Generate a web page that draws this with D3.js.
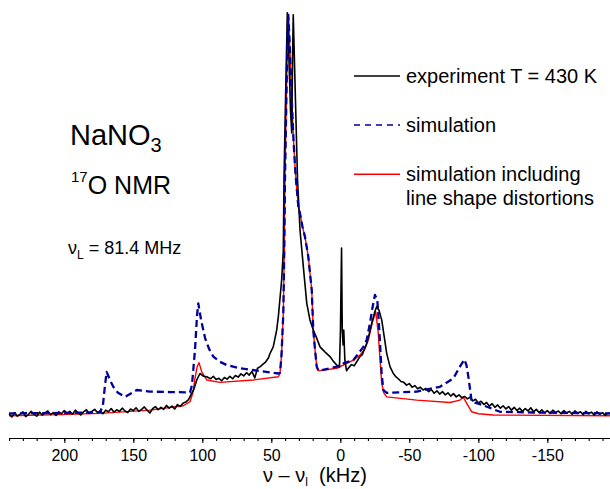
<!DOCTYPE html>
<html><head><meta charset="utf-8">
<script src="https://cdn.jsdelivr.net/npm/d3@7"></script>
<style>
body{margin:0;background:#fff}
svg{display:block}
text{font-family:"Liberation Sans",Arial,sans-serif;fill:#000}
</style>
</head><body>
<svg id="chart" width="610" height="489"></svg>
<script>
// ---- data (frequency offset in kHz, intensity in arbitrary units) ----
const experiment = [
[240,0.3],[238,-0.5],[236,0.6],[234,-0.3],[232,0.2],[230,0.8],[228,-0.4],[226,0.1],[224,0.9],[222,0.2],
[220,-0.3],[218,0.7],[216,0.0],[214,0.5],[212,1.0],[210,0.1],[208,0.6],[206,-0.1],[204,0.8],[202,0.3],
[200,1.1],[198,0.4],[196,0.9],[194,0.2],[192,1.2],[190,0.5],[188,0.0],[186,0.8],[184,1.3],[182,0.4],
[180,0.9],[178,1.4],[176,0.6],[174,1.0],[172,0.3],[170,1.2],[168,0.8],[166,1.6],[164,0.7],[162,1.3],
[160,0.9],[158,1.7],[156,1.0],[154,0.6],[152,1.5],[150,1.1],[148,1.8],[146,0.9],[144,1.4],[142,2.0],
[140,1.2],[138,0.5],[136,1.6],[134,2.1],[132,1.3],[130,1.9],[128,1.4],[126,2.4],[124,1.7],[122,2.2],
[120,1.5],[118,2.6],[116,2.1],[114,2.9],[112,3.2],[110,3.8],[108.5,4.8],[106,6.5],[104,8.7],[101.7,10.3],
[99,9.6],[96.8,9.5],[94,9.0],[92,9.6],[90,8.8],[88,9.1],[86,8.5],[84,9.3],[82,8.9],[80,9.6],
[78,9.0],[76,9.8],[74,9.4],[72,10.2],[70,9.7],[68,10.5],[66,9.9],[64,10.8],[62,9.2],[60,11.6],
[58,12.0],[56,12.6],[54,13.2],[52,14.2],[50.9,15.3],[48.6,16.9],[46.1,21.1],[44.9,24.4],[42.5,33.5],[41.3,40.9],
[40.8,58.3],[39.7,78.2],[38.4,99.8],[37.2,88.1],[36.1,75.7],[35.2,70.0],[34.6,88.1],[34.1,99.3],[32.5,78.2],[31.0,58.3],
[29.2,45.9],[26.8,36.8],[24.3,27.7],[22.0,23.6],[19.6,21.1],[17,19.0],[14.7,16.9],[11,15.6],[7.5,14.5],[5,13.3],
[2.6,12.4],[0.6,11.9],[-0.1,21.1],[-0.9,41.4],[-1.4,21.1],[-2.0,17.4],[-2.5,21.1],[-3.3,13.6],[-4.5,11.0],[-5.8,11.6],
[-8,12.5],[-10,12.2],[-11.9,13.2],[-14,14.4],[-16,15.0],[-19.1,17.8],[-21,20.2],[-23.0,23.1],[-25,25.6],[-26.4,26.9],
[-28,26.0],[-30.0,23.6],[-32,19.0],[-33.6,15.3],[-36,12.0],[-38.4,10.3],[-40,9.6],[-42,9.0],[-44,8.3],[-46,8.1],
[-48,7.4],[-50,7.8],[-52,6.9],[-54,7.3],[-56,6.5],[-58,6.9],[-60,6.2],[-62,6.6],[-64,5.8],[-66,6.3],
[-68,5.4],[-70,6.0],[-72,5.2],[-74,5.8],[-76,5.0],[-78,5.5],[-80,4.7],[-82,5.3],[-84,4.5],[-86,5.0],
[-88,4.3],[-90,4.6],[-92,4.0],[-94,4.4],[-96,3.5],[-98,3.9],[-100,3.0],[-102,3.4],[-104,2.6],[-106,3.1],
[-108,2.2],[-110,2.8],[-112,1.9],[-114,2.5],[-116,1.7],[-118,2.3],[-120,1.5],[-122,2.1],[-124,1.2],[-126,1.9],
[-128,1.1],[-130,1.7],[-132,0.9],[-134,1.6],[-136,1.0],[-138,1.8],[-140,0.8],[-142,1.4],[-144,0.6],[-146,1.3],
[-148,0.5],[-150,1.1],[-152,0.4],[-154,1.2],[-156,0.6],[-158,1.0],[-160,0.3],[-162,1.1],[-164,0.5],[-166,0.9],
[-168,0.2],[-170,1.0],[-172,0.4],[-174,0.8],[-176,0.1],[-178,0.9],[-180,0.3],[-182,0.7],[-184,0.0],[-186,0.8],
[-188,0.2],[-190,0.6],[-192,-0.1],[-194,0.5],[-196,0.2]
];

const simulation = [
[240,0.4],[200,0.5],[174,0.7],[172,2.5],[170.5,7.4],[169.3,10.7],[166.9,8.7],[164.5,7.0],[161.1,5.5],[156,4.5],
[152.4,5.2],[147.5,6.2],[137.9,5.8],[123.4,5.7],[108.9,5.6],[107.5,7.4],[105.3,16.1],[103.8,24.8],[102.9,27.7],[100.9,23.6],
[98,19.1],[95.1,16.4],[92,14.5],[87.2,13.2],[82.3,12.4],[72.7,11.6],[58.2,10.9],[44.9,10.3],[43.7,10.5],[42.6,14.9],
[41.3,25.2],[40.6,40.9],[40.1,58.3],[39.1,78.2],[38.3,93.1],[37.7,99.3],[36.8,93.1],[35.2,78.2],[33.9,68.2],[32.8,61.6],
[32.1,58.3],[30.4,51.7],[29.2,50.0],[27.4,46.7],[25.6,44.2],[23.2,39.3],[20.7,31.0],[19.6,21.1],[18.3,16.1],[17.1,12.0],
[15.9,11.0],[14.7,11.0],[2.6,12.0],[-2.2,12.8],[-9.4,13.6],[-16.7,16.9],[-19.1,18.6],[-21.5,22.8],[-23.3,26.6],[-25.1,29.8],
[-26.8,28.5],[-27.5,25.2],[-28.8,17.8],[-29.9,10.4],[-31.2,6.2],[-33.6,5.5],[-55.4,5.8],[-72.2,7.0],[-81.9,9.1],[-86.7,12.0],
[-89.9,13.8],[-91.4,12.4],[-92.8,9.5],[-95.2,3.3],[-101.2,2.7],[-115.7,0.8],[-144.7,0.6],[-196,0.4]
];

const simulationDistorted = [
[240,-0.2],[203,0.1],[174,0.4],[138,1.2],[113.8,2.3],[108.9,3.3],[106.7,5.7],[105.3,9.1],[103.8,11.9],[102.4,13.0],
[100.4,10.7],[96.8,8.7],[87.2,8.1],[63,8.7],[44.9,9.5],[43.7,10.3],[42.6,14.9],[41.3,25.2],[40.6,40.9],[40.1,58.3],
[39.1,78.2],[38.3,93.1],[37.7,99.3],[36.8,93.1],[35.2,78.2],[33.9,68.2],[32.8,61.6],[32.1,58.3],[30.4,51.7],[29.2,50.0],
[27.4,46.7],[25.6,44.2],[23.2,39.3],[20.7,31.0],[19.6,21.1],[18.3,16.1],[17.1,12.0],[15.9,11.0],[14.7,11.0],[2.6,11.6],
[-2.2,12.4],[-9.4,13.6],[-14.3,14.9],[-18,16.5],[-20.3,18.6],[-23.3,23.1],[-25.7,25.6],[-27.5,20.3],[-28.8,13.6],[-30.0,7.9],
[-31.5,5.5],[-33.6,4.5],[-55.4,3.7],[-79.5,3.1],[-86.7,3.7],[-89.1,4.4],[-91.6,2.9],[-95.2,0.8],[-100,0.3],[-110.9,0],
[-196,-0.2]
];

const majorTicks = [200,150,100,50,0,-50,-100,-150];
const minorTicks = [240,230,220,210,200,190,180,170,160,150,140,130,120,110,100,90,80,70,60,50,40,30,20,10,0,
  -10,-20,-30,-40,-50,-60,-70,-80,-90,-100,-110,-120,-130,-140,-150,-160,-170,-180,-190];
const legendLabels = [["experiment T = 430 K"],["simulation"],["simulation including","line shape distortions"]];
const legendColors = ["#000000","#00009c","#ff0000"];

// ---- drawing ----
const svg = d3.select("#chart");
const x = d3.scaleLinear().domain([240,-196]).range([9.1,610.8]);
const y = d3.scaleLinear().domain([0,100]).range([415,12]);
const line = d3.line().x(d=>x(d[0])).y(d=>y(d[1]));

svg.append("path").datum(simulationDistorted).attr("d",line)
  .attr("fill","none").attr("stroke","#ff0000").attr("stroke-width",1.4).attr("stroke-linejoin","round");
svg.append("path").datum(experiment).attr("d",line)
  .attr("fill","none").attr("stroke","#000").attr("stroke-width",1.6).attr("stroke-linejoin","round");
svg.append("path").datum(simulation).attr("d",line)
  .attr("fill","none").attr("stroke","#00009c").attr("stroke-width",2.3)
  .attr("stroke-dasharray","7,4").attr("stroke-linejoin","round");

// axis
const ax = svg.append("g").attr("transform","translate(0,438)");
ax.append("g").call(d3.axisBottom(x).tickValues(minorTicks).tickSize(3).tickSizeOuter(0).tickFormat(""));
const major = ax.append("g").call(d3.axisBottom(x).tickValues(majorTicks).tickSize(5).tickSizeOuter(0).tickPadding(7).tickFormat(d=>String(d)));
ax.selectAll("path.domain").attr("stroke","#000").attr("stroke-width",1.2);
ax.selectAll(".tick line").attr("stroke","#000").attr("stroke-width",1.1);
major.selectAll("text").style("font-family","'Liberation Sans',Arial,sans-serif").style("font-size","16px").attr("fill","#000");

// axis title
const xt = svg.append("text").attr("x",263).attr("y",482).style("font-size","20px").attr("xml:space","preserve");
xt.append("tspan").text("\u03BD \u2013 \u03BD");
xt.append("tspan").attr("dy",4).style("font-size","12px").text("l");
xt.append("tspan").attr("dy",-4).text("  (kHz)");

// annotations
const t1 = svg.append("text").attr("x",70).attr("y",145).style("font-size","29px");
t1.append("tspan").text("NaNO");
t1.append("tspan").attr("dy",7).style("font-size","20px").text("3");

const t2 = svg.append("text").attr("x",71).attr("y",194).style("font-size","25px");
t2.append("tspan").attr("dy",-12).style("font-size","15px").text("17");
t2.append("tspan").attr("dy",12).text("O NMR");

const t3 = svg.append("text").attr("x",68).attr("y",254).style("font-size","18px");
t3.append("tspan").text("\u03BD");
t3.append("tspan").attr("dy",5).style("font-size","12px").text("L");
t3.append("tspan").attr("dy",-5).text(" = 81.4 MHz");

// legend
const legY = [76,125,174.3];
const lg = svg.append("g");
legendLabels.forEach((lab,i)=>{
  const l = lg.append("line").attr("x1",354).attr("x2",400).attr("y1",legY[i]).attr("y2",legY[i])
    .attr("stroke",legendColors[i]).attr("stroke-width",i===1?1.6:1.5);
  if(i===1) l.attr("stroke-dasharray","6,5");
  lab.forEach((s,j)=>{
    lg.append("text").attr("x",406).attr("y",legY[i]+7+j*24).style("font-size","20px").text(s);
  });
});
</script>
</body></html>
